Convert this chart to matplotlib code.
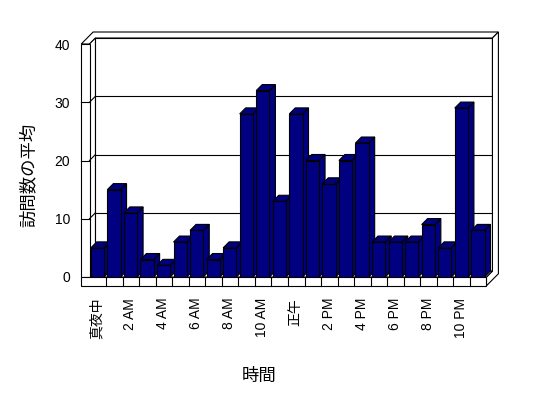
import matplotlib
matplotlib.use('Agg')
import matplotlib.pyplot as plt
from matplotlib.patches import Polygon

# average visits for each hour of the day (0 = midnight)
visits = [5, 15, 11, 3, 2, 6, 8, 3, 5, 28, 32, 13,
          28, 20, 16, 20, 23, 6, 6, 6, 9, 5, 29, 8]
hour_labels = ['真夜中', '2 AM', '4 AM', '6 AM', '8 AM', '10 AM',
               '正午', '2 PM', '4 PM', '6 PM', '8 PM', '10 PM']
y_ticks = [0, 10, 20, 30, 40]

plt.rcParams['font.family'] = ['Liberation Sans', 'Noto Sans CJK JP']

NAVY = '#000080'
DX, DY = 0.36, 1.03   # depth of the 3d box in data units
WT, FT = 0.5, 1.5     # wall and floor thickness
TOP = y_ticks[-1]
n = len(visits)

fig = plt.figure(figsize=(5.48, 3.98), dpi=100)
ax = fig.add_axes([89.5 / 548, 121 / 398, 397 / 548, 233 / 398])
ax.set_xlim(0, n)
ax.set_ylim(0, TOP)
for s in ax.spines.values():
    s.set_visible(False)


def face(pts, z, fc='white'):
    ax.add_patch(Polygon(pts, closed=True, fc=fc, ec='black', lw=0.8,
                         zorder=z, clip_on=False))


def line(xs, ys, z):
    ax.plot(xs, ys, color='black', lw=0.8, zorder=z, clip_on=False)


# walls and floor
face([(DX, DY), (n + DX, DY), (n + DX, TOP + DY), (DX, TOP + DY)], 1)
face([(-WT, TOP), (0, TOP), (DX, TOP + DY), (n + DX, TOP + DY),
      (n + 2 * DX, TOP + 2 * DY), (-WT + 2 * DX, TOP + 2 * DY)], 1)
face([(n, 0), (n + DX, DY), (n + DX, TOP + DY), (n + 2 * DX, TOP + 2 * DY),
      (n + 2 * DX, 2 * DY - FT), (n, -FT)], 1)
face([(0, 0), (0, TOP), (DX, TOP + DY), (DX, DY)], 2)
face([(0, 0), (n, 0), (n + DX, DY), (DX, DY)], 2)
face([(-WT, 0), (0, 0), (0, TOP), (-WT, TOP)], 2)
face([(-WT, -FT), (n, -FT), (n, 0), (-WT, 0)], 2)
for k in range(1, n):
    line([k, k], [-FT, 0], 3)

for v in y_ticks[1:-1]:
    line([DX, n + DX], [v + DY, v + DY], 1.5)
    line([0, DX], [v, v + DY], 3)
    line([-WT, 0], [v, v], 3)

# bars: front faces from ax.bar, side and top faces from their geometry
bars = ax.bar([i + 0.08 for i in range(n)], visits, width=0.8, align='edge',
              color=NAVY, edgecolor='black', linewidth=0.8)
for i, rect in enumerate(bars):
    x0 = rect.get_x()
    x1 = x0 + rect.get_width()
    h = rect.get_height()
    z = 5 + 0.01 * i
    face([(x1, 0), (x1 + DX, DY), (x1 + DX, h + DY), (x1, h)], z, NAVY)
    face([(x0, h), (x1, h), (x1 + DX, h + DY), (x0 + DX, h + DY)], z, NAVY)
    rect.set_zorder(z + 0.005)

ax.set_xticks([i + 0.45 for i in range(0, n, 2)])
ax.set_xticklabels(hour_labels, rotation=90)
ax.set_yticks(y_ticks)
ax.tick_params(axis='x', length=0, pad=15, labelsize=10)
ax.tick_params(axis='y', length=0, pad=14, labelsize=10)

ax.set_ylabel('訪問数の平均', fontsize=12.5)
ax.yaxis.label.set_va('center')
ax.yaxis.set_label_coords(-0.155, 0.438)
ax.set_xlabel('時間', fontsize=12.5)
ax.xaxis.label.set_va('center')
ax.xaxis.set_label_coords(0.427, -0.425)

fig.savefig('out.png', dpi=100)
